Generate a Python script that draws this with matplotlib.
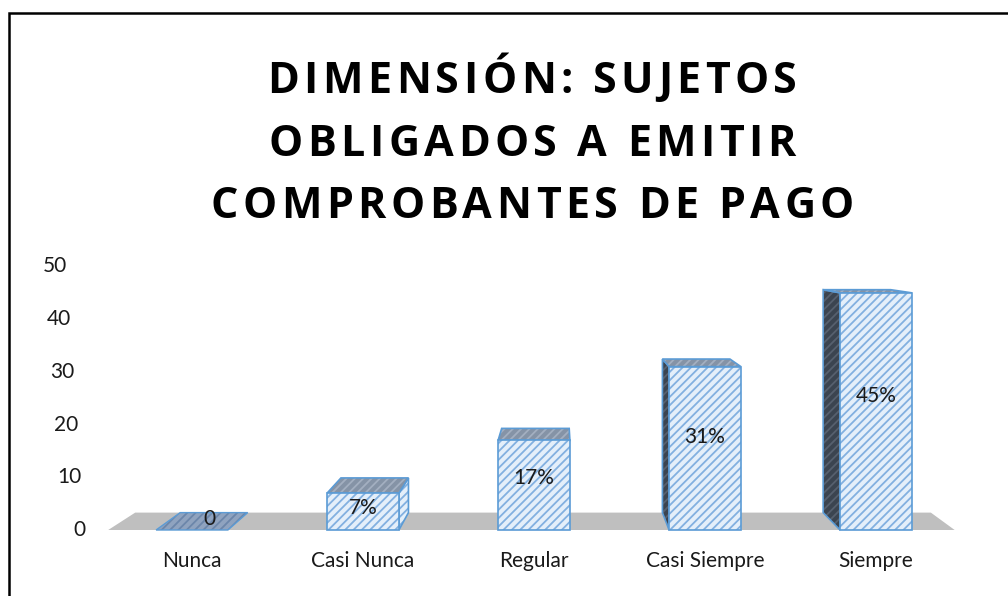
import matplotlib
matplotlib.use("Agg")
import matplotlib.pyplot as plt
from matplotlib.patches import Polygon, Rectangle
from matplotlib import font_manager
from matplotlib.ft2font import FT2Font

# ---------------- data ----------------
categories = ["Nunca", "Casi Nunca", "Regular", "Casi Siempre", "Siempre"]
values = [0, 7, 17, 31, 45]
value_labels = ["0", "7%", "17%", "31%", "45%"]
yticks = [0, 10, 20, 30, 40, 50]
title_lines = ["DIMENSIÓN: SUJETOS", "OBLIGADOS A EMITIR", "COMPROBANTES DE PAGO"]

# ---------------- style ----------------
W, H, DPI = 1008, 596, 100
FRONT_FACE = "#E4EFFA"
FRONT_HATCH = "#82B0E0"
EDGE = "#5B9BD5"
TOP_FACE = "#8593A6"
TOP_HATCH = "#A3AFC0"
SIDE_FACE = "#3B4450"
SIDE_HATCH = "#56606E"
FLOOR = "#BFBFBF"
plt.rcParams["hatch.linewidth"] = 1.3

fig = plt.figure(figsize=(W / DPI, H / DPI), dpi=DPI)
fig.patch.set_facecolor("white")

# axes mapping: idx 0 -> 192px, 171 px per category; value 0 -> 530px, 5.27 px per unit
X0, XS, Y0, YS = 192.0, 171.0, 530.0, 5.27
left_px, right_px, bot_px, top_px = 100.0, 975.0, 541.0, 256.0
ax = fig.add_axes([left_px / W, 1 - bot_px / H, (right_px - left_px) / W, (bot_px - top_px) / H])
ax.set_xlim((left_px - X0) / XS, (right_px - X0) / XS)
ax.set_ylim(-(bot_px - Y0) / YS, (Y0 - top_px) / YS)
ax.axis("off")

# simple one-point perspective for depth
VX, VY, K = 2.14, 55.0, 0.06


def back(p):
    return (p[0] + K * (VX - p[0]), p[1] + K * (VY - p[1]))


def face(pts, fc, hc, z, edge=EDGE, lw=1.2):
    ax.add_patch(Polygon(pts, closed=True, facecolor=fc, edgecolor=hc, hatch="////",
                         linewidth=0, zorder=z))
    ax.add_patch(Polygon(pts, closed=True, facecolor="none", edgecolor=edge,
                         linewidth=lw, zorder=z + 0.01))


# floor
fl, fr = -0.49, 4.46
floor_pts = [(fl, 0), (fr, 0), back((fr, 0)), back((fl, 0))]
ax.add_patch(Polygon(floor_pts, closed=True, facecolor=FLOOR, edgecolor="none", zorder=1))

bw = 0.42
for i, v in enumerate(values):
    xl, xr = i - bw / 2, i + bw / 2
    z = 2 + i
    fbl, fbr, ftr, ftl = (xl, 0), (xr, 0), (xr, v), (xl, v)
    if v == 0:
        face([fbl, fbr, back(fbr), back(fbl)], "#8FA3BF", "#6C86AA", z, lw=1.0)
        continue
    # side faces
    if xl > VX:
        face([fbl, ftl, back(ftl), back(fbl)], SIDE_FACE, SIDE_HATCH, z)
    if xr < VX:
        face([fbr, ftr, back(ftr), back(fbr)], FRONT_FACE, FRONT_HATCH, z)
    # top
    face([ftl, ftr, back(ftr), back(ftl)], TOP_FACE, TOP_HATCH, z + 0.1)
    # front
    face([fbl, fbr, ftr, ftl], FRONT_FACE, FRONT_HATCH, z + 0.2)

# value labels
lab_font = dict(family=["Lato", "DejaVu Sans"], fontsize=15, color="#1a1a1a")
for i, (v, s) in enumerate(zip(values, value_labels)):
    if v > 0:
        ax.text(i, v * 0.56 + 0.3, s, ha="center", va="center", zorder=20, **lab_font)
    else:
        ax.text(i + 0.1, 2.0, s, ha="center", va="center", zorder=20, **lab_font)

# category labels
for i, c in enumerate(categories):
    ax.text(i, -(561 - Y0) / YS, c, ha="center", va="center", clip_on=False, **lab_font)

# y tick labels (slanted along the 3D wall)
for t in yticks:
    xr_px = 85 - t * 0.36
    ax.text((xr_px - X0) / XS, t, str(t), ha="right", va="center", clip_on=False, **lab_font)

# title with letter spacing
tprops = font_manager.FontProperties(family="Open Sans", weight="bold")
tpath = font_manager.findfont(tprops)
tsize = 31
ft = FT2Font(tpath)
ft.set_size(tsize, DPI)


def adv(ch):
    g = ft.load_char(ord(ch))
    return g.linearHoriAdvance / 65536.0


spacing = 4.5
baselines = [93, 156, 218]
for line, by in zip(title_lines, baselines):
    widths = [adv(c) for c in line]
    total = sum(widths) + spacing * (len(line) - 1)
    x = 532 - total / 2
    for c, w in zip(line, widths):
        fig.text(x / W, 1 - by / H, c, fontproperties=tprops, fontsize=tsize,
                 ha="left", va="baseline", color="black")
        x += w + spacing

# outer frame (top and left edges visible)
fig.add_artist(Rectangle((9 / W, -0.05), 1.2, 1 - 13 / H + 0.05, transform=fig.transFigure,
                         facecolor="none", edgecolor="black", linewidth=1.8, clip_on=False))

fig.savefig("out.png", dpi=DPI)
